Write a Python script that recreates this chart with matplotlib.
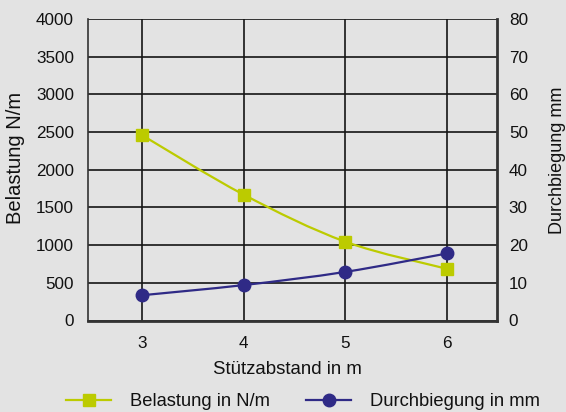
import numpy as np
import matplotlib
matplotlib.use('Agg')
import matplotlib.pyplot as plt
from matplotlib.path import Path
from matplotlib.patches import PathPatch
from matplotlib.lines import Line2D

plt.rcParams['font.family'] = ['Liberation Sans', 'DejaVu Sans']

# data
stuetzabstand = [3, 4, 5, 6]
belastung = [2460, 1670, 1045, 685]          # N/m, left axis
durchbiegung = [6.7, 9.4, 12.9, 17.8]        # mm, right axis

green = '#bccb00'
navy = '#2f2a86'
bg = '#e3e3e3'
txt = '#111111'


def smooth_path(xs, ys):
    # Catmull-Rom style bezier through the points (like a smoothed line)
    pts = np.column_stack([xs, ys]).astype(float)
    ext = np.vstack([pts[0], pts, pts[-1]])
    verts = [pts[0]]
    codes = [Path.MOVETO]
    for i in range(len(pts) - 1):
        p0, p1, p2, p3 = ext[i], ext[i + 1], ext[i + 2], ext[i + 3]
        verts += [p1 + (p2 - p0) / 6, p2 - (p3 - p1) / 6, p2]
        codes += [Path.CURVE4] * 3
    return Path(verts, codes)


fig = plt.figure(figsize=(5.66, 4.12), dpi=100, facecolor=bg)
ax = fig.add_axes([88 / 566, 1 - 320.5 / 412, 409 / 566, 301.5 / 412])
ax.set_facecolor(bg)
ax2 = ax.twinx()

ax.set_xlim(2.47, 6.49)
ax.set_ylim(0, 4000)
ax2.set_ylim(0, 80)
ax.set_xticks(stuetzabstand)
ax.set_yticks(np.arange(0, 4001, 500))
ax2.set_yticks(np.arange(0, 81, 10))

ax.grid(True, color='#151515', linewidth=1.2)
ax.set_axisbelow(True)

ax.add_patch(PathPatch(smooth_path(stuetzabstand, belastung), fill=False,
                       edgecolor=green, linewidth=1.6, zorder=3))
ax.plot(stuetzabstand, belastung, 's', color=green, markersize=8, zorder=4)
ax2.add_patch(PathPatch(smooth_path(stuetzabstand, durchbiegung), fill=False,
                        edgecolor=navy, linewidth=1.6, zorder=3))
ax2.plot(stuetzabstand, durchbiegung, 'o', color=navy, markersize=9, zorder=4)

for a in (ax, ax2):
    a.tick_params(length=0, labelsize=12.3, colors=txt)
    for s in a.spines.values():
        s.set_visible(False)
ax.tick_params(axis='y', pad=10)
ax.tick_params(axis='x', pad=11)
ax2.tick_params(axis='y', pad=8.5)
ax.spines['left'].set_visible(True)
ax.spines['left'].set_color('#333333')
ax.spines['left'].set_linewidth(1.2)
ax.spines['bottom'].set_visible(True)
ax.spines['bottom'].set_color('#333333')
ax.spines['bottom'].set_linewidth(2)
ax2.spines['right'].set_visible(True)
ax2.spines['right'].set_color('#333333')
ax2.spines['right'].set_linewidth(2)

fig.text(15.5 / 566, 1 - 157.5 / 412, 'Belastung N/m', rotation=90,
         ha='center', va='center', fontsize=14.5, color=txt)
fig.text(557 / 566, 1 - 160 / 412, 'Durchbiegung mm', rotation=90,
         ha='center', va='center', fontsize=13, color=txt)
fig.text(287.5 / 566, 1 - 370 / 412, 'Stützabstand in m',
         ha='center', va='center', fontsize=13.4, color=txt)

handles = [Line2D([], [], color=green, marker='s', markersize=8, linewidth=1.6),
           Line2D([], [], color=navy, marker='o', markersize=9, linewidth=1.6)]
leg = fig.legend(handles, ['Belastung in N/m', 'Durchbiegung in mm'], loc='center',
                 bbox_to_anchor=(303 / 566, 1 - 402 / 412), ncol=2, frameon=False,
                 fontsize=13.2, handlelength=2.45, handletextpad=1.0,
                 columnspacing=2.0)
for t in leg.get_texts():
    t.set_color(txt)

fig.savefig('out.png', dpi=100, facecolor=bg)
